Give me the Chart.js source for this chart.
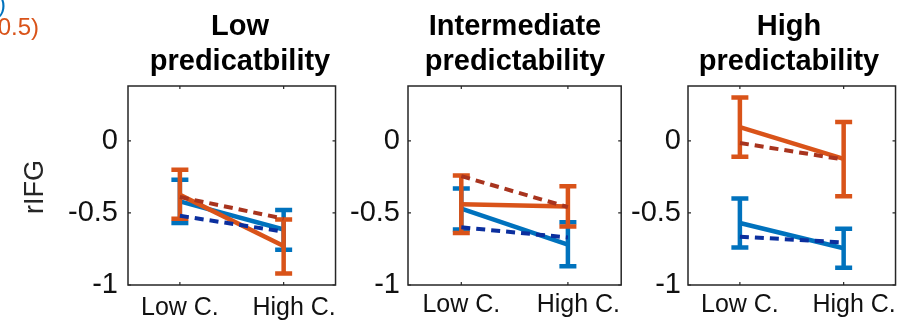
<!DOCTYPE html>
<html>
<head>
<meta charset="utf-8">
<script src="https://cdn.jsdelivr.net/npm/chart.js@4"></script>
<style>
  html, body { margin: 0; padding: 0; background: #fff; }
  body { width: 899px; height: 321px; position: relative; overflow: hidden; }
  .panel { position: absolute; top: 0; height: 321px; }
</style>
</head>
<body>
<div class="panel" id="p0" style="left:0px;width:345px"><canvas id="c0"></canvas></div>
<div class="panel" id="p1" style="left:340px;width:286px"><canvas id="c1"></canvas></div>
<div class="panel" id="p2" style="left:620px;width:281px"><canvas id="c2"></canvas></div>
<script>
// ---- data ----
const categories = ["Low C.", "High C."];
const panelTitles = [
    ["Low", "predicatbility"],
    ["Intermediate", "predictability"],
    ["High", "predictability"],
];
const yTicks = [-1, -0.5, 0];

// one pair [Low C., High C.] per panel
const blueMean = [[-0.42, -0.615], [-0.47, -0.72], [-0.57, -0.745]];
const blueLow = [[-0.57, -0.755], [-0.615, -0.87], [-0.74, -0.88]];
const blueHigh = [[-0.27, -0.48], [-0.33, -0.565], [-0.40, -0.61]];

const orangeMean = [[-0.375, -0.73], [-0.44, -0.455], [0.095, -0.125]];
const orangeLow = [[-0.54, -0.92], [-0.64, -0.595], [-0.11, -0.385]];
const orangeHigh = [[-0.20, -0.545], [-0.24, -0.315], [0.30, 0.13]];

const redDashed = [[-0.39, -0.54], [-0.245, -0.46], [-0.015, -0.13]];
const navyDashed = [[-0.52, -0.63], [-0.60, -0.67], [-0.665, -0.705]];

// ---- styles ----
const BLUE = "#0072BD";
const ORANGE = "#D95319";
const DARK_RED = "#A8341E";
const NAVY = "#0B2F9E";
const AXIS = "#262626";
const FONT = "'Liberation Sans', Arial, sans-serif";

// layout of each panel
const yAxisWidth = [128, 68, 68];
const rightPad = [5, 4, 1];
const xLabelPad = [8, 5, 5];
const yLabelPad = [10, 8, 7];
const titleCenter = [240, 515, 789];  // page x
const panelLeft = [0, 340, 620];

const toPoints = (arr) => arr.map((v, i) => ({ x: i + 1, y: v }));

// error bars drawn right after their own line, so layering follows dataset order
const errorBars = {
    id: "errorBars",
    afterDatasetDraw(chart, args) {
        const ds = chart.data.datasets[args.index];
        if (!ds.errLow) return;
        const ctx = chart.ctx;
        const xs = chart.scales.x, ys = chart.scales.y;
        ctx.save();
        ctx.strokeStyle = ds.borderColor;
        ctx.lineWidth = 4.5;
        ctx.lineCap = "butt";
        ds.errLow.forEach((lo, i) => {
            const px = xs.getPixelForValue(i + 1);
            const yl = ys.getPixelForValue(lo);
            const yh = ys.getPixelForValue(ds.errHigh[i]);
            ctx.beginPath();
            ctx.moveTo(px, yl); ctx.lineTo(px, yh);
            ctx.moveTo(px - 8.5, yl); ctx.lineTo(px + 8.5, yl);
            ctx.moveTo(px - 8.5, yh); ctx.lineTo(px + 8.5, yh);
            ctx.stroke();
        });
        ctx.restore();
    },
};

// MATLAB-like box with inward ticks, plus titles
const frame = {
    id: "frame",
    afterDraw(chart, args, opts) {
        const ctx = chart.ctx;
        const a = chart.chartArea;
        const xs = chart.scales.x, ys = chart.scales.y;
        ctx.save();
        ctx.strokeStyle = AXIS;
        ctx.lineWidth = 1.5;
        ctx.strokeRect(a.left, a.top, a.right - a.left, a.bottom - a.top);
        ctx.lineWidth = 1.2;
        ctx.beginPath();
        [1, 2].forEach((v) => {
            const px = xs.getPixelForValue(v);
            ctx.moveTo(px, a.bottom); ctx.lineTo(px, a.bottom - 3);
            ctx.moveTo(px, a.top); ctx.lineTo(px, a.top + 3);
        });
        yTicks.forEach((v) => {
            const py = ys.getPixelForValue(v);
            ctx.moveTo(a.left, py); ctx.lineTo(a.left + 3, py);
            ctx.moveTo(a.right, py); ctx.lineTo(a.right - 3, py);
        });
        ctx.stroke();

        // title
        ctx.fillStyle = "#000";
        ctx.font = "bold 29px " + FONT;
        ctx.textAlign = "center";
        ctx.textBaseline = "alphabetic";
        ctx.fillText(opts.title[0], opts.cx, 35);
        ctx.fillText(opts.title[1], opts.cx, 70);

        if (opts.first) {
            // y-axis label
            ctx.save();
            ctx.translate(43, 187);
            ctx.rotate(-Math.PI / 2);
            ctx.font = "27px " + FONT;
            ctx.fillStyle = AXIS;
            ctx.textAlign = "center";
            ctx.fillText("rIFG", 0, 0);
            ctx.restore();
            // legend text, cut off at the page edge
            ctx.font = "24px " + FONT;
            ctx.textAlign = "right";
            ctx.fillStyle = BLUE;
            ctx.fillText(")", 6, 12);
            ctx.fillStyle = ORANGE;
            ctx.fillText("0.5)", 39, 35);
        }
        ctx.restore();
    },
};

function makePanel(p) {
    const ctx = document.getElementById("c" + p).getContext("2d");
    return new Chart(ctx, {
        type: "line",
        data: {
            datasets: [
                {
                    label: "dashed red",
                    data: toPoints(redDashed[p]),
                    borderColor: DARK_RED,
                    borderWidth: 4,
                    borderDash: [9, 6],
                    pointRadius: 0,
                },
                {
                    label: "dashed blue",
                    data: toPoints(navyDashed[p]),
                    borderColor: NAVY,
                    borderWidth: 4,
                    borderDash: [9, 6],
                    pointRadius: 0,
                },
                {
                    label: "orange",
                    data: toPoints(orangeMean[p]),
                    errLow: orangeLow[p],
                    errHigh: orangeHigh[p],
                    borderColor: ORANGE,
                    borderWidth: 4.5,
                    pointRadius: 0,
                },
                {
                    label: "blue",
                    data: toPoints(blueMean[p]),
                    errLow: blueLow[p],
                    errHigh: blueHigh[p],
                    borderColor: BLUE,
                    borderWidth: 4.5,
                    pointRadius: 0,
                },
            ],
        },
        options: {
            responsive: true,
            maintainAspectRatio: false,
            animation: false,
            layout: { padding: { top: 86, right: rightPad[p], bottom: 0, left: 0 } },
            scales: {
                x: {
                    type: "linear",
                    min: 0.5,
                    max: 2.5,
                    afterBuildTicks: (s) => { s.ticks = [{ value: 1 }, { value: 2 }]; },
                    afterFit: (s) => { s.height = 36; },
                    grid: { display: false, drawTicks: false },
                    border: { display: false },
                    ticks: {
                        padding: xLabelPad[p],
                        color: "#111",
                        font: { family: FONT, size: 25 },
                        // the right-hand label sits a little right of its tick in the original
                        callback: (v) => (v === 2 ? "\u00a0\u00a0\u00a0" : "") + categories[v - 1],
                    },
                },
                y: {
                    min: -1,
                    max: 0.38,
                    afterBuildTicks: (s) => { s.ticks = yTicks.map((v) => ({ value: v })); },
                    afterFit: (s) => { s.width = yAxisWidth[p]; },
                    grid: { display: false, drawTicks: false },
                    border: { display: false },
                    ticks: {
                        padding: yLabelPad[p],
                        color: "#111",
                        font: { family: FONT, size: 29 },
                        callback: (v) => String(v),
                    },
                },
            },
            plugins: {
                legend: { display: false },
                tooltip: { enabled: false },
                frame: {
                    title: panelTitles[p],
                    cx: titleCenter[p] - panelLeft[p],
                    first: p === 0,
                },
            },
        },
        plugins: [errorBars, frame],
    });
}

[0, 1, 2].forEach(makePanel);
</script>
</body>
</html>
